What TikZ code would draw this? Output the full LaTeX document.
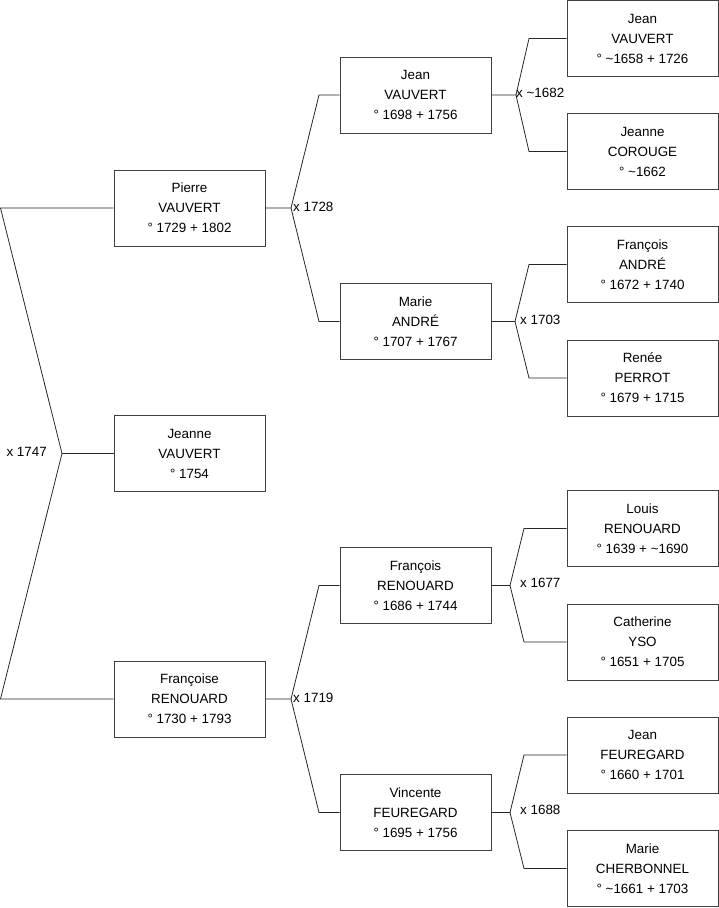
\documentclass[tikz,border=0pt]{standalone}
\usepackage{fontspec}
\setmainfont{Liberation Sans}
\begin{document}
\begin{tikzpicture}[x=1pt,y=-1pt,
  person/.style={draw=black!75, line width=0.9pt, minimum width=151pt, minimum height=76pt,
    inner sep=0pt, align=center, font=\fontsize{13.4}{20}\selectfont},
  link/.style={draw=black!85, line width=0.8pt},
  mlabel/.style={anchor=west, inner sep=1pt, font=\fontsize{13.4}{15}\selectfont}]
\useasboundingbox (0,0) rectangle (719,908);
% generation 1
\node[person] (p1) at (189.5,208) {Pierre\\VAUVERT\\° 1729 + 1802};
\node[person] (p2) at (189.5,453.5) {Jeanne\\VAUVERT\\° 1754};
\node[person] (p3) at (189.5,699) {Françoise\\RENOUARD\\° 1730 + 1793};
% generation 2
\node[person] (g1) at (415.5,95) {Jean\\VAUVERT\\° 1698 + 1756};
\node[person] (g2) at (415.5,321.5) {Marie\\ANDRÉ\\° 1707 + 1767};
\node[person] (g3) at (415.5,585.5) {François\\RENOUARD\\° 1686 + 1744};
\node[person] (g4) at (415.5,812.5) {Vincente\\FEUREGARD\\° 1695 + 1756};
% generation 3
\node[person] (a1) at (642.5,38.5) {Jean\\VAUVERT\\° \textasciitilde1658 + 1726};
\node[person] (a2) at (642.5,151.5) {Jeanne\\COROUGE\\° \textasciitilde1662};
\node[person] (a3) at (642.5,264.5) {François\\ANDRÉ\\° 1672 + 1740};
\node[person] (a4) at (642.5,378) {Renée\\PERROT\\° 1679 + 1715};
\node[person] (a5) at (642.5,528.5) {Louis\\RENOUARD\\° 1639 + \textasciitilde1690};
\node[person] (a6) at (642.5,642) {Catherine\\YSO\\° 1651 + 1705};
\node[person] (a7) at (642.5,755) {Jean\\FEUREGARD\\° 1660 + 1701};
\node[person] (a8) at (642.5,868.5) {Marie\\CHERBONNEL\\° \textasciitilde1661 + 1703};
% root couple
\coordinate (r1) at (0.5,208);
\coordinate (j0) at (62,453.5);
\coordinate (r2) at (0.5,699);
\draw[link] (p1.west) -- (r1) -- (j0) -- (r2) -- (p3.west);
\draw[link] (j0) -- (p2.west);
\node[anchor=east, inner sep=1pt, font=\fontsize{13.4}{15}\selectfont] (l0) at (48,452) {x 1747};
% Pierre's parents
\coordinate (j1) at (291,208);
\coordinate (u1) at (319,95);
\coordinate (d1) at (319,321.5);
\draw[link] (p1.east) -- (j1) -- (u1) -- (g1.west);
\draw[link] (j1) -- (d1) -- (g2.west);
\node[mlabel] (l1) at (292,207) {x 1728};
% Françoise's parents
\coordinate (j2) at (291,699);
\coordinate (u2) at (319,585.5);
\coordinate (d2) at (319,812.5);
\draw[link] (p3.east) -- (j2) -- (u2) -- (g3.west);
\draw[link] (j2) -- (d2) -- (g4.west);
\node[mlabel] (l2) at (292,698) {x 1719};
% Jean VAUVERT's parents
\coordinate (j3) at (516,95);
\coordinate (u3) at (529,38.5);
\coordinate (d3) at (529,151.5);
\draw[link] (g1.east) -- (j3) -- (u3) -- (a1.west);
\draw[link] (j3) -- (d3) -- (a2.west);
\node[mlabel] (l3) at (515,93) {x \textasciitilde1682};
% Marie ANDRÉ's parents
\coordinate (j4) at (515,321.5);
\coordinate (u4) at (529,264.5);
\coordinate (d4) at (529,378);
\draw[link] (g2.east) -- (j4) -- (u4) -- (a3.west);
\draw[link] (j4) -- (d4) -- (a4.west);
\node[mlabel] (l4) at (519,320) {x 1703};
% François RENOUARD's parents
\coordinate (j5) at (510,585.5);
\coordinate (u5) at (524,528.5);
\coordinate (d5) at (524,642);
\draw[link] (g3.east) -- (j5) -- (u5) -- (a5.west);
\draw[link] (j5) -- (d5) -- (a6.west);
\node[mlabel] (l5) at (519,583) {x 1677};
% Vincente FEUREGARD's parents
\coordinate (j6) at (510,812.5);
\coordinate (u6) at (524,755);
\coordinate (d6) at (524,868.5);
\draw[link] (g4.east) -- (j6) -- (u6) -- (a7.west);
\draw[link] (j6) -- (d6) -- (a8.west);
\node[mlabel] (l6) at (519,810) {x 1688};
\end{tikzpicture}
\end{document}
